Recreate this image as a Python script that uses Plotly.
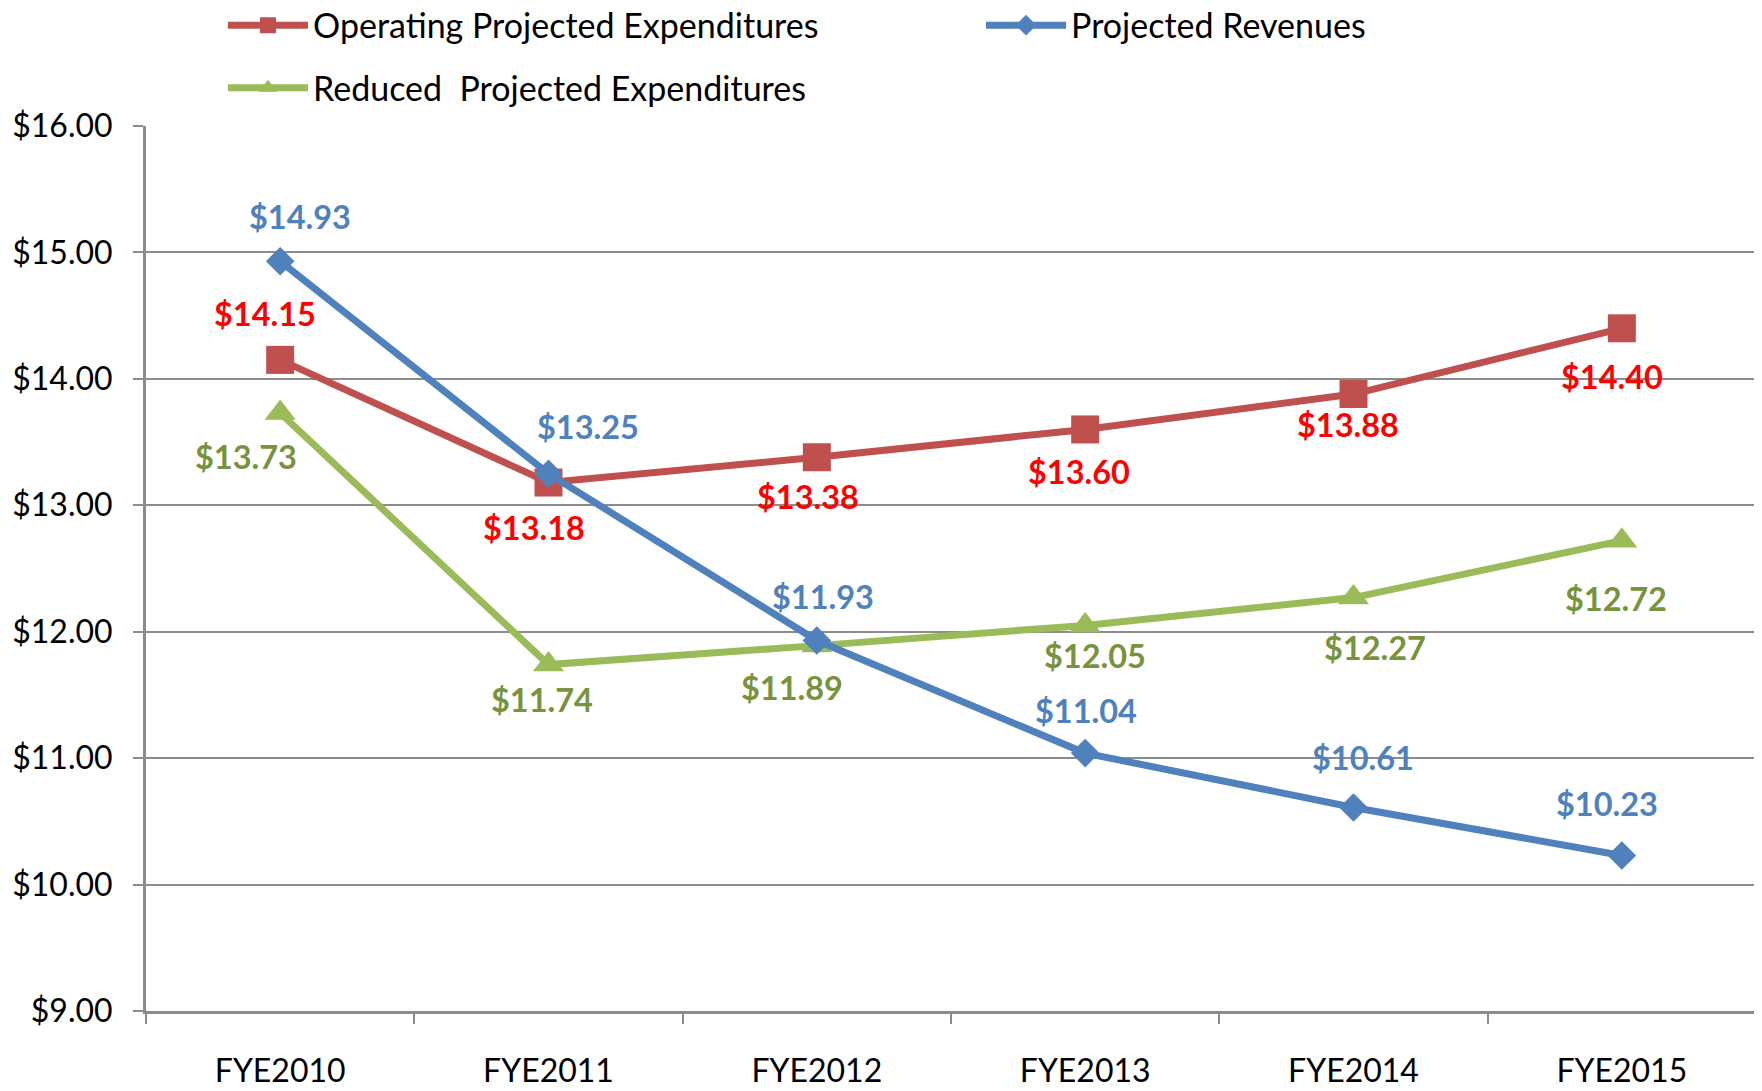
import plotly.graph_objects as go

categories = ["FYE2010", "FYE2011", "FYE2012", "FYE2013", "FYE2014", "FYE2015"]
operating = [14.15, 13.18, 13.38, 13.60, 13.88, 14.40]
revenues = [14.93, 13.25, 11.93, 11.04, 10.61, 10.23]
reduced = [13.73, 11.74, 11.89, 12.05, 12.27, 12.72]
y_ticks = [9, 10, 11, 12, 13, 14, 15, 16]

# label offsets in pixels (x, y) relative to each point
op_off = [(-15, -46), (-15, 45), (-9, 39), (-6, 42), (-6, 30), (-10, 48)]
rev_off = [(20, -45), (39, -47), (6, -44), (1, -43), (9, -50), (-15, -52)]
red_off = [(-34, 44), (-7, 35), (-25, 42), (10, 30), (21, 50), (-6, 58)]

FONT = "Lato"
RED_LINE, BLUE_LINE, GREEN_LINE = "#C0504D", "#4F81BD", "#9BBB59"
RED_TXT, BLUE_TXT, GREEN_TXT = "#FF0000", "#4F81BD", "#77933C"

fig = go.Figure()
fig.add_trace(go.Scatter(x=categories, y=operating, name="Operating Projected Expenditures",
                         mode="lines+markers", line=dict(color=RED_LINE, width=7),
                         marker=dict(symbol="square", size=28, color=RED_LINE),
                         legend="legend", legendrank=1))
fig.add_trace(go.Scatter(x=categories, y=reduced, name="Reduced  Projected Expenditures",
                         mode="lines+markers", line=dict(color=GREEN_LINE, width=7),
                         marker=dict(symbol="triangle-up", size=27, color=GREEN_LINE),
                         legend="legend2", legendrank=3))
fig.add_trace(go.Scatter(x=categories, y=revenues, name="Projected Revenues",
                         mode="lines+markers", line=dict(color=BLUE_LINE, width=7),
                         marker=dict(symbol="diamond", size=22, color=BLUE_LINE),
                         legend="legend", legendrank=2))

annotations = []
for vals, offs, col in [(operating, op_off, RED_TXT), (revenues, rev_off, BLUE_TXT),
                        (reduced, red_off, GREEN_TXT)]:
    for c, v, (dx, dy) in zip(categories, vals, offs):
        annotations.append(dict(x=c, y=v, text=f"<b>${v:.2f}</b>", showarrow=False,
                                xshift=dx, yshift=-dy,
                                font=dict(family=FONT, size=32.5, color=col)))

# the page adds an 8px body margin, so the figure is sized 8px smaller
fig.update_layout(
    width=1754, height=1083,
    margin=dict(l=138, r=6, t=118, b=80, autoexpand=False),
    plot_bgcolor="white", paper_bgcolor="white",
    font=dict(family=FONT, size=30, color="black"),
    annotations=annotations,
    showlegend=True,
    legend=dict(orientation="h", x=0.1226, y=1.1135, xanchor="left", yanchor="middle",
                xref="container", yref="paper",
                font=dict(family=FONT, size=34, color="black"),
                entrywidth=663, itemwidth=80, bgcolor="rgba(0,0,0,0)"),
    legend2=dict(orientation="h", x=0.1226, y=1.0429, xanchor="left", yanchor="middle",
                 xref="container", yref="paper",
                 font=dict(family=FONT, size=34, color="black"),
                 itemwidth=80, bgcolor="rgba(0,0,0,0)"),
)
fig.update_xaxes(type="category", range=[-0.5, 5.5], tickson="boundaries",
                 ticks="outside", ticklen=10, tickwidth=2, tickcolor="#8C8C8C",
                 showline=True, linecolor="#8C8C8C", linewidth=3,
                 showgrid=False, ticklabelstandoff=30,
                 tickfont=dict(family=FONT, size=32, color="black"))
fig.update_yaxes(range=[9, 16], tickvals=y_ticks,
                 ticktext=[f"${t:.2f}" for t in y_ticks],
                 ticks="outside", ticklen=10, tickwidth=2, tickcolor="#8C8C8C",
                 showline=True, linecolor="#8C8C8C", linewidth=3,
                 showgrid=True, gridcolor="#8C8C8C", gridwidth=2, zeroline=False,
                 ticklabelstandoff=14,
                 tickfont=dict(family=FONT, size=32, color="black"))

fig.write_html("out.html")
